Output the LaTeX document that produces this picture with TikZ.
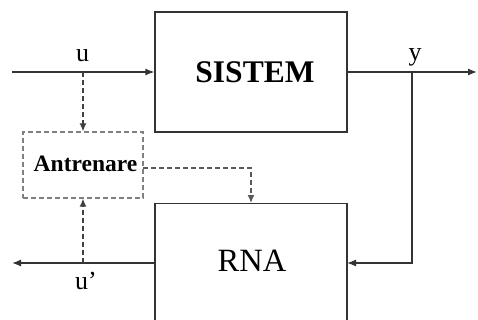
\documentclass[tikz,border=0pt]{standalone}
\usepackage{fontspec}
\setmainfont{Liberation Serif}
\usetikzlibrary{arrows.meta,calc}
\begin{document}
\begin{tikzpicture}[x=1pt,y=-1pt,
  blk/.style={draw=black!80,line width=1.3pt,inner sep=0pt,fill=none},
  arr/.style={draw=black!80,line width=1.3pt,-{Latex[length=9pt,width=7pt]}},
  darr/.style={draw=black!75,line width=1.3pt,dash pattern=on 5pt off 3pt,-{Latex[length=8pt,width=7pt]}},
  dbox/.style={draw=black!50,line width=1.3pt,dash pattern=on 5pt off 3pt,inner sep=0pt},
  lbl/.style={font=\fontsize{26}{26}\selectfont,inner sep=0pt}]
\useasboundingbox (0,0) rectangle (478,320);
% blocks
\node[blk,minimum width=192pt,minimum height=120pt] (sis) at (251,72) {};
\node[font=\bfseries\fontsize{31.5}{31.5}\selectfont,inner sep=0pt] (sist) at (255,72) {SISTEM};
\node[blk,minimum width=192pt,minimum height=140pt,anchor=north] (rna) at (251,203) {};
\node[font=\fontsize{32.5}{32.5}\selectfont,inner sep=0pt] (rnat) at (252,261) {RNA};
\node[dbox,minimum width=120pt,minimum height=66pt] (antr) at (83,165) {};
\node[font=\bfseries\fontsize{23.5}{23.5}\selectfont,inner sep=0pt] (antrt) at (85.5,164) {Antrenare};
% coordinates
\coordinate (uin) at (12,72);
\coordinate (ubr) at (83,72);
\coordinate (yout) at (477,72);
\coordinate (yj) at (412,72);
\coordinate (rnain) at (347,263);
\coordinate (rnaout) at (155,263);
\coordinate (uout) at (12,263);
\coordinate (ubr2) at (83,263);
\coordinate (aout) at (143,168);
\coordinate (rtop) at (251,203);
% labels
\node[lbl] (ul) at (82.5,56) {u};
\node[lbl] (yl) at (415,57) {y};
\node[lbl] (upl) at (86,281) {u’};
% connectors
\draw[arr] (uin) -- (sis.west);
\draw[line width=1.3pt,draw=black!80] (sis.east) -- (yj);
\draw[arr] (yj) -- (yout);
\draw[arr] (yj) |- (rnain);
\draw[arr] (rnaout) -- (uout);
\draw[darr] (ubr) -- (antr.north);
\draw[darr] (ubr2) -- (antr.south);
\draw[darr,draw=black!65] (aout) -| (rtop);
\end{tikzpicture}
\end{document}
